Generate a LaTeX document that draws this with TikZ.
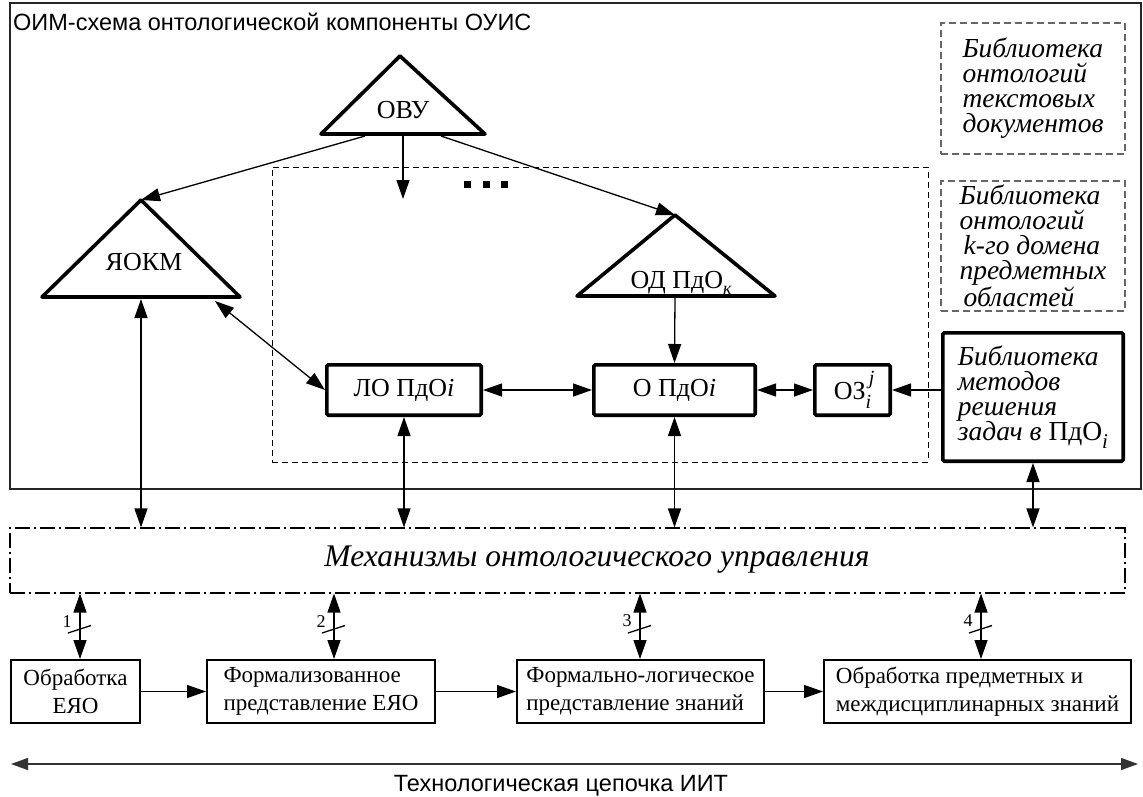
\documentclass[tikz,border=0pt]{standalone}
\usepackage{fontspec}
\setmainfont{Liberation Serif}
\newfontfamily\arialf{Liberation Sans}
\usetikzlibrary{arrows.meta}
\begin{document}
\begin{tikzpicture}[x=1pt,y=-1pt,
  conn/.style={line width=1.3pt},
  arr/.style={conn,-{Triangle[length=19pt,width=13pt]}},
  barr/.style={conn,{Triangle[length=19pt,width=13pt]}-{Triangle[length=19pt,width=13pt]}},
  tri/.style={line width=3.6pt,line join=round},
  bigbox/.style={draw,line width=3.6pt,inner sep=0pt,rounded corners=1.5pt},
  procbox/.style={draw,line width=2.4pt,inner sep=0pt,minimum height=62.6pt,font=\fontsize{23}{28}\selectfont},
  lib/.style={draw=black!60,dash pattern=on 7pt off 4pt,line width=1.1pt,inner sep=0pt,align=left,font=\fontsize{27.5}{25}\selectfont\itshape},
  f26/.style={font=\fontsize{26}{28}\selectfont},
]
\useasboundingbox (0,0) rectangle (1143,796);
% outer frame
\node[draw=black!85,line width=1.3pt,minimum width=1131pt,minimum height=486pt,inner sep=0pt] (outer) at (575.5,246) {};
\node[anchor=base west,font=\arialf\fontsize{23.5}{25}\selectfont,inner sep=0pt] (title) at (13,30) {ОИМ-схема онтологической компоненты ОУИС};
% dashed region
\node[draw,dash pattern=on 6pt off 4pt,line width=0.9pt,minimum width=656pt,minimum height=295pt,inner sep=0pt] (region) at (600,314.5) {};
% triangles
\coordinate (ovuA) at (400,56); \coordinate (ovuL) at (321,134); \coordinate (ovuR) at (485,134);
\draw[tri] (ovuA) -- (ovuR) -- (ovuL) -- cycle;
\node[f26] (ovu) at (403,110) {ОВУ};
\coordinate (yaA) at (141,200); \coordinate (yaL) at (42,297); \coordinate (yaR) at (240,297);
\draw[tri] (yaA) -- (yaR) -- (yaL) -- cycle;
\node[f26] (yaokm) at (144,262) {ЯОКМ};
\coordinate (odA) at (675,215); \coordinate (odL) at (577,296); \coordinate (odR) at (775,296);
\draw[tri] (odA) -- (odR) -- (odL) -- cycle;
\node[f26] (od) at (681,283) {ОД ПдО\raisebox{-0.2em}{\fontsize{18}{18}\selectfont\itshape к}};
% dots
\fill (464,181) rectangle (471,188);
\fill (483,181) rectangle (490,188);
\fill (501,181) rectangle (508,188);
% library boxes
\node[lib,minimum width=184pt,minimum height=131pt] (lib1) at (1033,88.5) {Библиотека\\онтологий\\текстовых\\документов};
\node[lib,minimum width=184pt,minimum height=130pt] (lib2) at (1033,246) {Библиотека\\онтологий\\\hspace{4pt}\textit{k}-го домена\\предметных\\\hspace{4pt}областей};
% thick boxes
\node[bigbox,f26,minimum width=154.4pt,minimum height=50.4pt] (lo) at (404,390) {ЛО ПдО\textit{i}};
\node[bigbox,f26,minimum width=161.4pt,minimum height=50.4pt] (o) at (674.5,390) {О ПдО\textit{i}};
\node[bigbox,f26,minimum width=75.4pt,minimum height=50.4pt] (oz) at (852.5,390) {ОЗ\rlap{\raisebox{0.55em}{\fontsize{20}{20}\selectfont\itshape\,j}}\raisebox{-0.35em}{\fontsize{20}{20}\selectfont\itshape i}};
\node[bigbox,minimum width=180.4pt,minimum height=128.4pt,align=left,font=\fontsize{27.5}{25}\selectfont\itshape] (meth) at (1033,397) {Библиотека\\методов\\решения\\задач в {\upshape ПдО}\raisebox{-0.3em}{\fontsize{21}{21}\selectfont i}};
% mechanisms
\node[draw,dash pattern=on 15pt off 4pt on 2pt off 4pt,line width=1.1pt,minimum width=1115pt,minimum height=65pt,inner sep=0pt] (mech) at (567.5,560.5) {};
\node[font=\fontsize{31.5}{32}\selectfont\itshape,inner sep=0pt] (mechtext) at (597,560) {Механизмы онтологического управления};
% process boxes
\node[procbox,minimum width=128.6pt,align=center] (p1) at (75.5,691.5) {Обработка\\ЕЯО};
\node[procbox,minimum width=227.6pt,align=left] (p2) at (321,691.5) {Формализованное\\представление ЕЯО};
\node[procbox,minimum width=246.6pt,align=left] (p3) at (640.5,691.5) {Формально-логическое\\представление знаний};
\node[procbox,minimum width=306.6pt,align=left] (p4) at (977.5,691.5) {Обработка предметных и\\междисциплинарных знаний};
% connectors top
\coordinate (ovuB1) at (365,136); \coordinate (ovuB2) at (403,136); \coordinate (ovuB3) at (441,136);
\coordinate (dotsEnd) at (403,199);
\draw[arr] (ovuB1) -- (yaA);
\draw[arr] (ovuB2) -- (dotsEnd);
\draw[arr] (ovuB3) -- (odA);
\coordinate (yaB) at (141,299); \coordinate (yaS) at (215,301);
\draw[barr] (yaB) -- (yaB |- mech.north);
\draw[barr] (yaS) -- (lo.west);
\draw[barr] (lo.south) -- (lo.south |- mech.north);
\draw[barr] (lo.east) -- (o.west);
\coordinate (odB) at (675,298);
\draw[arr] (odB) -- (o.north);
\draw[barr] (o.south) -- (o.south |- mech.north);
\draw[barr] (o.east) -- (oz.west);
\draw[arr] (meth.west |- oz.east) -- (oz.east);
\draw[barr] (meth.south) -- (meth.south |- mech.north);
% connectors bottom
\coordinate (v1) at (80,0); \coordinate (v2) at (334,0); \coordinate (v3) at (640,0); \coordinate (v4) at (981,0);
\foreach \v/\b in {v1/p1,v2/p2,v3/p3,v4/p4}{
  \draw[barr] (\v |- mech.south) -- (\v |- \b.north);
}
\draw[conn] (68,633) -- (91,625.5);
\draw[conn] (322,633) -- (345,625.5);
\draw[conn] (628,633) -- (651,625.5);
\draw[conn] (969,633) -- (992,625.5);
\node[font=\fontsize{18}{18}\selectfont,inner sep=0pt] (n1) at (67,622) {1};
\node[font=\fontsize{18}{18}\selectfont,inner sep=0pt] (n2) at (321,622) {2};
\node[font=\fontsize{18}{18}\selectfont,inner sep=0pt] (n3) at (627,621) {3};
\node[font=\fontsize{18}{18}\selectfont,inner sep=0pt] (n4) at (968,621) {4};
\draw[arr] (p1.east) -- (p2.west);
\draw[arr] (p2.east) -- (p3.west);
\draw[arr] (p3.east) -- (p4.west);
% technology chain
\coordinate (chL) at (11,764); \coordinate (chR) at (1138,764);
\draw[conn,draw=black!80,{Triangle[length=17pt,width=12pt]}-{Triangle[length=17pt,width=12pt]}] (chL) -- (chR);
\node[font=\arialf\fontsize{23.5}{25}\selectfont,inner sep=0pt] (chain) at (561,786) {Технологическая цепочка ИИТ};
\end{tikzpicture}
\end{document}
